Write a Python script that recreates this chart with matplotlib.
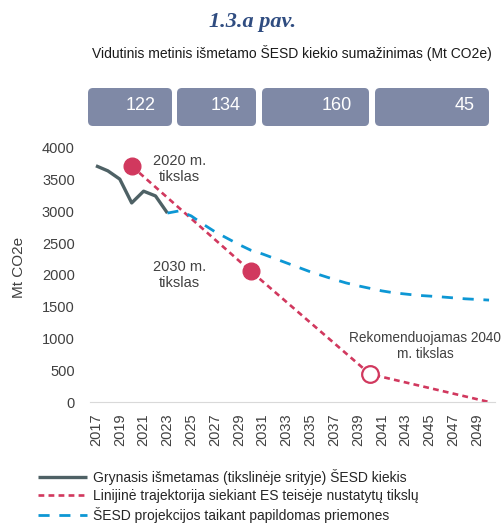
import numpy as np
import matplotlib
matplotlib.use('Agg')
import matplotlib.pyplot as plt
from matplotlib.patches import FancyBboxPatch
from matplotlib.colors import LinearSegmentedColormap

plt.rcParams['font.family'] = ['Liberation Sans', 'DejaVu Sans']

# duomenys
years_hist = [2017, 2018, 2019, 2020, 2021, 2022, 2023]
hist = [3720, 3640, 3510, 3135, 3320, 3245, 2975]

years_proj = list(range(2023, 2051))
proj = [2975, 3010, 2930, 2800, 2680, 2580, 2480, 2390, 2330, 2260, 2190, 2120,
        2050, 1990, 1930, 1875, 1830, 1790, 1750, 1720, 1700, 1680, 1668, 1655,
        1640, 1625, 1615, 1605]

years_target = [2020, 2030, 2040, 2050]
target = [3715, 2060, 440, 0]

box_values = [122, 134, 160, 45]
tick_years = list(range(2017, 2050, 2))

grey = '#4E6165'
red = '#D1385E'
blue = '#0D97D4'
txt = '#404040'

fig = plt.figure(figsize=(5.04, 5.23), dpi=100)
W, H = 504, 523
ax = fig.add_axes([90/W, 1-402/H, 405/W, 254/H])

ax.plot(years_hist, hist, color=grey, lw=2.4, solid_capstyle='butt',
        label='Grynasis išmetamas (tikslinėje srityje) ŠESD kiekis')
ax.plot(years_target, target, color=red, lw=1.9, dashes=(2.2, 1.6),
        label='Linijinė trajektorija siekiant ES teisėje nustatytų tikslų')
ax.plot(years_proj, proj, color=blue, lw=2.0, dashes=(4, 3.5),
        label='ŠESD projekcijos taikant papildomas priemones')

ax.plot(years_target[:2], target[:2], 'o', ms=12, color=red, zorder=5)
ax.plot(years_target[2], target[2], 'o', ms=12, mfc='white', mec=red, mew=1.6, zorder=5)

ax.set_xlim(2016.5, 2050.5)
ax.set_ylim(0, 4000)
ax.set_yticks(range(0, 4001, 500))
ax.set_xticks(tick_years)
ax.set_xticklabels([str(y) for y in tick_years], rotation=90)
ax.tick_params(axis='y', length=0, pad=11, labelsize=10.5, labelcolor=txt)
ax.tick_params(axis='x', length=0, pad=8, labelsize=10.5, labelcolor=txt)
for s in ['top', 'right', 'left']:
    ax.spines[s].set_visible(False)
ax.spines['bottom'].set_color('#D9D9D9')
ax.set_ylabel('Mt CO2e', fontsize=11, color=txt)
ax.yaxis.set_label_coords(-64/405, 0.53)

ax.text(2024, 3670, '2020 m.\ntikslas', ha='center', va='center', fontsize=10.5, color=txt)
ax.text(2024, 2000, '2030 m.\ntikslas', ha='center', va='center', fontsize=10.5, color=txt)
fig.text(501/W, 1-346/H, 'Rekomenduojamas 2040\nm. tikslas', ha='right', va='center',
         multialignment='center', fontsize=9.8, color=txt)

# antraštė ir dėžutės viršuje
ov = fig.add_axes([0, 0, 1, 1], zorder=-1)
ov.set_xlim(0, W)
ov.set_ylim(H, 0)
ov.axis('off')

fig.text(253/W, 1-22/H, '1.3.a pav.', ha='center', va='center', fontsize=16,
         family='Liberation Serif', weight='bold', style='italic', color='#2F4C80')
fig.text(292/W, 1-53/H, 'Vidutinis metinis išmetamo ŠESD kiekio sumažinimas (Mt CO2e)',
         ha='center', va='center', fontsize=10, color='#1A1A1A')

box_x = [(88, 172), (177, 256), (262, 369), (375, 489)]
text_x = [141, 226, 337, 465]
fade = [False, True, True, True]
cmap = LinearSegmentedColormap.from_list('f', ['#7F89A6', '#D6DAE3'])
for (x0, x1), tx, v, f in zip(box_x, text_x, box_values, fade):
    p = FancyBboxPatch((x0, 88), x1-x0, 38, boxstyle='round,pad=0,rounding_size=5',
                       fc='#7F89A6', ec='none')
    ov.add_patch(p)
    if f:
        g = np.linspace(0, 1, 50).reshape(1, -1) ** 1.5
        im = ov.imshow(g, cmap=cmap, extent=(x1-16, x1, 126, 88), aspect='auto')
        im.set_clip_path(p)
    ov.text(tx, 106, str(v), ha='center', va='center', fontsize=13, color='white')

leg = fig.legend(loc='upper left', bbox_to_anchor=(38/W, 1-469/H), frameon=False,
                 fontsize=10, handlelength=3.5, handletextpad=0.45, labelspacing=0.3,
                 borderpad=0, borderaxespad=0)
for t in leg.get_texts():
    t.set_color('#262626')

fig.savefig('out.png', dpi=100)
